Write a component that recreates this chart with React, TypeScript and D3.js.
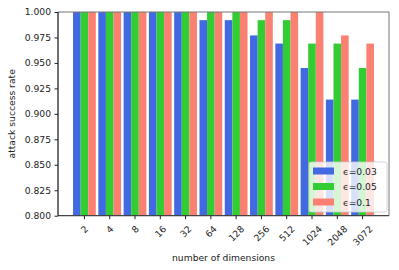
import React, { useRef, useEffect } from 'react';
import * as d3 from 'd3';

// dimensions on the x axis
const dims = ['2', '4', '8', '16', '32', '64', '128', '256', '512', '1024', '2048', '3072'];

// attack success rate per epsilon
const eps003 = [1, 1, 1, 1, 1, 0.992, 0.992, 0.977, 0.969, 0.945, 0.914, 0.914];
const eps005 = [1, 1, 1, 1, 1, 1, 1, 0.992, 0.992, 0.969, 0.969, 0.945];
const eps01 = [1, 1, 1, 1, 1, 1, 1, 1, 1, 1, 0.977, 0.969];

const seriesNames = ['ϵ=0.03', 'ϵ=0.05', 'ϵ=0.1'];
const seriesColors = ['#4169E1', '#32CD32', '#FA8072'];
const yTicks = [0.8, 0.825, 0.85, 0.875, 0.9, 0.925, 0.95, 0.975, 1.0];

const W = 399;
const H = 270;
const FONT = 'DejaVu Sans, sans-serif';

const App = () => {
  const svgRef = useRef<SVGSVGElement>(null);

  useEffect(() => {
    if (!svgRef.current) return;
    const svg = d3.select(svgRef.current);
    svg.selectAll('*').remove();

    const margin = { top: 12, right: 10, bottom: 54.3, left: 58 };
    const innerW = W - margin.left - margin.right;
    const innerH = H - margin.top - margin.bottom;
    const barW = 0.3;
    const series = [eps003, eps005, eps01];

    const x = d3.scaleLinear().domain([-0.745, 12.345]).range([0, innerW]);
    const y = d3.scaleLinear().domain([0.8, 1.0]).range([innerH, 0]);

    const g = svg.append('g').attr('transform', `translate(${margin.left},${margin.top})`);

    // bars
    series.forEach((vals, si) => {
      g.selectAll(`.bar-${si}`)
        .data(vals)
        .enter()
        .append('rect')
        .attr('x', (_d, i) => x(i + si * barW - barW / 2))
        .attr('y', (d) => y(d))
        .attr('width', x(barW) - x(0))
        .attr('height', (d) => innerH - y(d))
        .attr('fill', seriesColors[si]);
    });

    // spines
    g.append('line').attr('x1', 0).attr('x2', innerW).attr('y1', 0).attr('y2', 0)
      .attr('stroke', '#777').attr('stroke-width', 1);
    g.append('line').attr('x1', innerW).attr('x2', innerW).attr('y1', 0).attr('y2', innerH)
      .attr('stroke', '#777').attr('stroke-width', 1);
    g.append('line').attr('x1', 0).attr('x2', innerW).attr('y1', innerH).attr('y2', innerH)
      .attr('stroke', '#444').attr('stroke-width', 1.2);
    g.append('line').attr('x1', 0).attr('x2', 0).attr('y1', 0).attr('y2', innerH)
      .attr('stroke', '#111').attr('stroke-width', 1.2);

    // y axis
    const yAxisG = g.append('g')
      .call(d3.axisLeft(y).tickValues(yTicks).tickFormat(d3.format('.3f')).tickSize(3.5).tickPadding(3.5));
    yAxisG.select('.domain').remove();
    yAxisG.selectAll('.tick line').attr('stroke', '#222');
    yAxisG.selectAll('text')
      .attr('fill', '#222')
      .style('font-size', '9.2px')
      .style('font-family', FONT);

    // x ticks
    const tickPos = dims.map((_d, i) => i + 1.5 * barW - barW / 2);
    tickPos.forEach((t, i) => {
      const tx = x(t);
      g.append('line').attr('x1', tx).attr('x2', tx).attr('y1', innerH).attr('y2', innerH + 3.5)
        .attr('stroke', '#222');
      const label = g.append('text')
        .attr('text-anchor', 'middle')
        .attr('dominant-baseline', 'central')
        .attr('fill', '#222')
        .style('font-size', '9.2px')
        .style('font-family', FONT)
        .text(dims[i]);
      const tw = (label.node() as SVGTextElement).getComputedTextLength();
      const half = (tw + 7) / (2 * Math.SQRT2);
      label.attr('transform', `translate(${tx},${innerH + 9 + half}) rotate(-45)`);
    });

    // axis labels
    svg.append('text')
      .attr('x', margin.left + innerW / 2)
      .attr('y', 261)
      .attr('text-anchor', 'middle')
      .attr('fill', '#222')
      .style('font-size', '9.2px')
      .style('font-family', FONT)
      .text('number of dimensions');

    svg.append('text')
      .attr('transform', `translate(15,${margin.top + innerH / 2}) rotate(-90)`)
      .attr('text-anchor', 'middle')
      .attr('fill', '#222')
      .style('font-size', '9.2px')
      .style('font-family', FONT)
      .text('attack success rate');

    // legend
    const lg = svg.append('g').attr('transform', 'translate(309,162)');
    lg.append('rect')
      .attr('x', 0).attr('y', 0).attr('width', 78).attr('height', 50).attr('rx', 2)
      .attr('fill', 'white').attr('fill-opacity', 0.8)
      .attr('stroke', '#ccc').attr('stroke-width', 0.8);
    seriesNames.forEach((name, i) => {
      const cy = 8 + i * 15.5;
      lg.append('rect')
        .attr('x', 4).attr('y', cy - 3.5 + 1).attr('width', 21).attr('height', 7)
        .attr('fill', seriesColors[i]);
      lg.append('text')
        .attr('x', 34).attr('y', cy + 1)
        .attr('dominant-baseline', 'central')
        .attr('fill', '#222')
        .style('font-size', '9.2px')
        .style('font-family', FONT)
        .text(name);
    });

    return () => {
      svg.selectAll('*').remove();
    };
  }, []);

  return (
    <svg
      ref={svgRef}
      width={W}
      height={H}
      viewBox={`0 0 ${W} ${H}`}
      style={{ position: 'absolute', left: 0, top: 0, display: 'block', background: '#fff' }}
    />
  );
};

export default App;
